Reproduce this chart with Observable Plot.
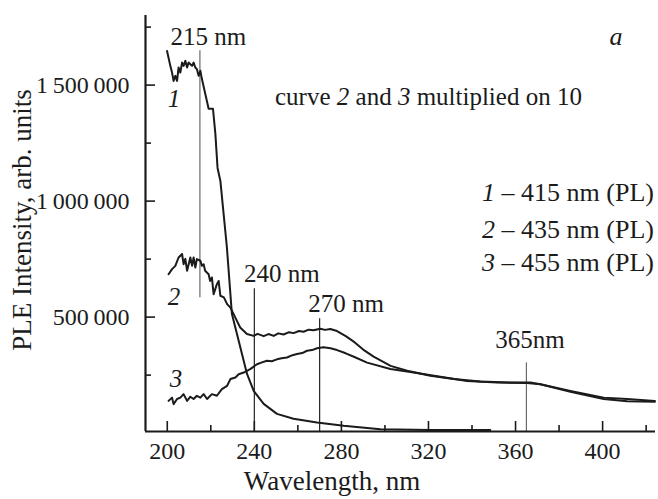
<!DOCTYPE html>
<html><head><meta charset="utf-8">
<script src="https://cdn.jsdelivr.net/npm/d3@7"></script>
<script src="https://cdn.jsdelivr.net/npm/@observablehq/plot@0.6"></script>
<style>
body{margin:0;background:#fff}
#chart{width:658px;height:499px}
</style>
</head><body><div id="chart"></div>
<script>
// Curve 1 – 415 nm (PL)
const wl1 = [199.9,201.4,202.2,202.9,203.7,204.5,205.2,206.0,206.8,207.5,208.3,209.1,209.8,210.6,211.4,212.1,212.9,213.6,214.4,215.2,215.9,219.0,221.0,222.1,223.1,224.4,227.4,229.7,232.0,234.3,236.6,239.7,244.3,250.4,258.0,268.8,281.0,297.9,320.9,348.4];
const int1 = [1647000,1583000,1554000,1518000,1540000,1518000,1576000,1554000,1597000,1583000,1605000,1576000,1597000,1590000,1583000,1597000,1576000,1569000,1540000,1562000,1527000,1398000,1398000,1290000,1143000,1087000,800000,513000,428000,342000,256000,182000,126000,83000,62000,46000,31500,17000,14000,13000];
// Curve 2 – 435 nm (PL), x10
const wl2 = [200.6,202.2,203.7,205.2,206.8,207.5,208.3,209.1,210.6,211.4,212.1,212.9,213.6,215.2,215.9,216.7,217.4,219.0,219.7,220.5,221.3,222.8,223.6,224.4,226.0,227.5,229.0,230.5,232.0,233.5,236.6,239.7,241.5,244.3,246.5,248.9,251.0,253.4,256.0,258.0,260.5,262.6,265.0,267.2,270.3,272.5,274.9,278.0,282.0,286.0,290.0,294.8,302.6,310.2,320.9,331.6,343.8,359.1,366.8,371.4,385.2,400.5,411.3,424.0];
const int2 = [685000,707000,721000,757000,772000,728000,751000,700000,757000,721000,757000,714000,750000,743000,721000,728000,700000,685000,656000,671000,599000,642000,656000,592000,585000,556000,541000,513000,484000,455000,427000,419000,428000,418000,427000,419000,430000,425000,435000,431000,440000,437000,446000,443000,450000,445000,449000,440000,418000,392000,360000,330000,290000,269000,247000,233000,222000,218000,218000,211000,182000,153000,147000,139000];
// Curve 3 – 455 nm (PL), x10
const wl3 = [200.6,202.2,202.9,204.5,206.0,207.5,209.1,210.6,212.1,213.6,215.2,216.7,218.3,220.5,222.8,225.1,227.5,229.0,231.3,232.8,235.1,238.1,241.2,243.5,245.8,248.0,250.4,252.5,255.0,257.5,259.6,262.0,264.2,266.5,268.8,271.8,275.0,278.0,282.0,286.0,291.8,302.5,313.2,325.5,337.7,351.5,365.3,371.4,385.2,400.5,411.3,424.0];
const int3 = [139000,153000,125000,147000,153000,168000,139000,157000,147000,161000,153000,168000,147000,168000,161000,190000,204000,233000,240000,254000,261000,276000,297000,305000,312000,310000,318000,323000,326000,336000,341000,345000,355000,358000,366000,370000,366000,358000,344000,328000,304000,276000,261000,243000,225000,218000,216000,211000,178000,147000,137000,135000];

const xTicks = [200,240,280,320,360,400];
const xMinorTicks = [220,260,300,340,380,420];
const yTicks = [500000,1000000,1500000];
const yMinorTicks = [250000,750000,1250000,1750000];
const xDomain = [190, 424.3];
const yDomain = [7000, 1800000];

const peaks = [215,240,270,365];
const peakLabels = ["215 nm","240 nm","270 nm","365nm"];
const peakTop = [1648000,622000,493000,303000];
const peakBottom = [583000,7000,7000,7000];

const legendNames = ["1","2","3"];
const legendTexts = [" – 415 nm (PL)"," – 435 nm (PL)"," – 455 nm (PL)"];

const zip = (xs, ys, c) => xs.map((x,i) => ({wl:x, v:ys[i], c}));
const curves = [...zip(wl1,int1,"1"), ...zip(wl2,int2,"2"), ...zip(wl3,int3,"3")];
const peakRows = peaks.map((p,i) => ({x:p, y1:peakBottom[i], y2:peakTop[i], grey: (i===0||i===3)}));

const INK = "#1b1b1b";
const FONT = "'Liberation Serif','Times New Roman',serif";
const plot = Plot.plot({
  width: 658, height: 499,
  marginLeft: 145, marginRight: 3, marginTop: 15, marginBottom: 68,
  x: {domain: xDomain},
  y: {domain: yDomain},
  style: {fontFamily: FONT, fontSize: "24px", color: INK, background: "#fff", overflow: "visible"},
  marks: [
    Plot.ruleX(peakRows, {x:"x", y1:"y1", y2:"y2", stroke: d => d.grey ? "#6a6a6a" : "#222", strokeWidth: 1.2}),
    Plot.line(curves, {x:"wl", y:"v", z:"c", stroke: INK, strokeWidth: 2, curve: "linear"}),
    Plot.axisX(xTicks, {tickSize: -10, tickFormat: () => "", label: null, strokeWidth: 1.6}),
    Plot.axisX(xMinorTicks, {tickSize: -6, tickFormat: () => "", label: null, strokeWidth: 1.6}),
    Plot.axisX(xTicks, {tickSize: 0, tickPadding: 10, label: null, fontSize: 24}),
    Plot.axisY(yTicks, {tickSize: -10, tickFormat: () => "", label: null, strokeWidth: 1.6}),
    Plot.axisY(yMinorTicks, {tickSize: -6, tickFormat: () => "", label: null, strokeWidth: 1.6}),
    Plot.axisY(yTicks, {tickSize: 0, tickPadding: 16, label: null, fontSize: 24,
      tickFormat: d => d3.format(",")(d).replace(/,/g, "\u2009")}),
    Plot.ruleX([xDomain[0]], {stroke: INK, strokeWidth: 2.2}),
    Plot.ruleY([yDomain[0]], {stroke: INK, strokeWidth: 2.2})
  ]
});
document.getElementById("chart").appendChild(plot);

const svg = d3.select(plot);
const sx = plot.scale("x"), sy = plot.scale("y");
const X = v => sx.apply(v), Y = v => sy.apply(v);
function addText(x, y, parts, size, anchor, transform) {
  const t = svg.append("text").attr("x", x).attr("y", y)
    .attr("text-anchor", anchor || "start").attr("fill", INK)
    .style("font-family", FONT).style("font-size", size + "px");
  if (transform) t.attr("transform", transform);
  parts.forEach(p => { const s = t.append("tspan").text(p.t); if (p.i) s.style("font-style", "italic"); });
  return t;
}
// peak annotations
const labelDx = [9, 28, 27, 4], labelDy = [-5, -6, -6, -14];
peaks.forEach((p,i) => addText(X(p) + labelDx[i], Y(peakTop[i]) + labelDy[i], [{t: peakLabels[i]}], 25, "middle"));
// curve numbers
const curveLabelPos = [[174,107],[174,305],[176,387]];
legendNames.forEach((n,i) => addText(curveLabelPos[i][0], curveLabelPos[i][1], [{t:n, i:true}], 25, "middle"));
// panel letter
addText(616, 45, [{t:"a", i:true}], 26, "middle");
// note
addText(275, 105, [{t:"curve "},{t:"2", i:true},{t:" and "},{t:"3", i:true},{t:" multiplied on 10"}], 25, "start");
// legend
const legendY = [201, 238, 271];
legendNames.forEach((n,i) => addText(654, legendY[i], [{t:n, i:true},{t:legendTexts[i]}], 26, "end"));
// axis titles
addText(332, 490, [{t:"Wavelength, nm"}], 27, "middle");
addText(0, 0, [{t:"PLE Intensity, arb. units"}], 27, "middle", "translate(31,220) rotate(-90)");
</script>
</body></html>
